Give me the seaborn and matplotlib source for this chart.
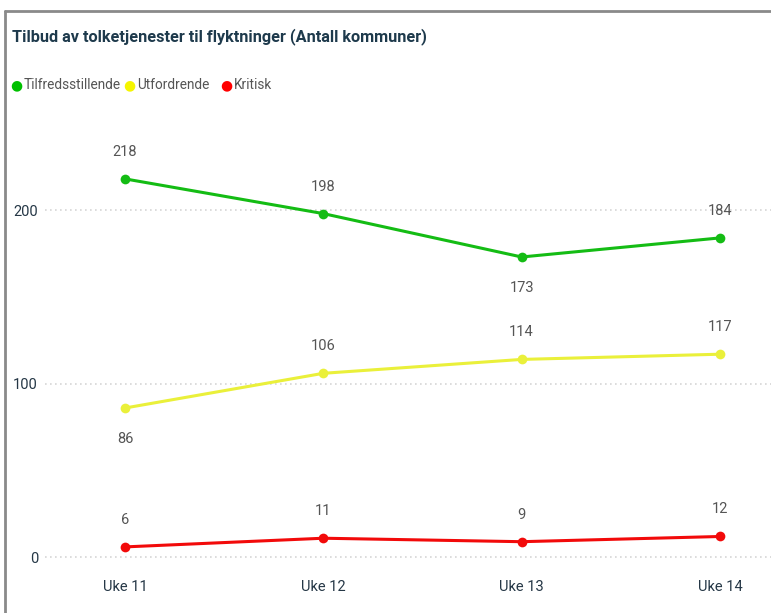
import matplotlib
matplotlib.use("Agg")
import matplotlib.pyplot as plt
import pandas as pd
import seaborn as sns

# Données du graphique
uker = ["Uke 11", "Uke 12", "Uke 13", "Uke 14"]
tilfredsstillende = [218, 198, 173, 184]
utfordrende = [86, 106, 114, 117]
kritisk = [6, 11, 9, 12]
serier = ["Tilfredsstillende", "Utfordrende", "Kritisk"]
farger = ["#14BC14", "#EAF03A", "#F20A0A"]
prikkfarger = ["#00C000", "#F5F500", "#FF0000"]

# Format long pour seaborn
df = pd.DataFrame({
    "uke": uker * 3,
    "x": list(range(len(uker))) * 3,
    "verdi": tilfredsstillende + utfordrende + kritisk,
    "serie": [serier[0]] * 4 + [serier[1]] * 4 + [serier[2]] * 4,
})

sns.set_theme(style="white")
plt.rcParams["font.family"] = ["Roboto", "DejaVu Sans"]

fig = plt.figure(figsize=(7.71, 6.13), dpi=100)
ax = fig.add_axes([45 / 771, 1 - 566 / 613, 1 - 45 / 771, (566 - 132) / 613])

sns.lineplot(data=df, x="x", y="verdi", hue="serie", palette=farger,
             marker="o", markersize=7, markeredgewidth=0, linewidth=2.2,
             legend=False, ax=ax)

# Étiquettes de valeurs (décalage en pixels converti en points)
tekstfarge = "#555555"
def etikett(v, i, over=True):
    off = 27 if over else -31
    ax.annotate(str(v), (i, v), xytext=(0, off * 0.72), textcoords="offset points",
                ha="center", va="center", fontsize=10.5, color=tekstfarge)

for i in range(len(uker)):
    etikett(tilfredsstillende[i], i, over=(i != 2))
    etikett(utfordrende[i], i, over=(i != 0))
    etikett(kritisk[i], i)

ax.set_xlim(-0.403, 3.257)
ax.set_ylim(-5, 245)
ax.set_xticks(range(len(uker)))
ax.set_xticklabels(uker)
ax.set_yticks([0, 100, 200])
ax.set_xlabel("")
ax.set_ylabel("")
ax.tick_params(axis="both", length=0, labelsize=10.5, colors="#253746")
ax.tick_params(axis="x", pad=10)
ax.tick_params(axis="y", pad=5)
ax.grid(axis="y", color="#D6D6D6", linestyle=(0, (1, 2)), linewidth=1.2)
for s in ax.spines.values():
    s.set_visible(False)

# Titre et légende
fig.text(12 / 771, 1 - 37 / 613, "Tilbud av tolketjenester til flyktninger (Antall kommuner)",
         fontsize=11.7, fontweight="bold", color="#1E3A4C", va="center", ha="left")
xs = [16, 129, 226]
for navn, farge, x0 in zip(serier, prikkfarger, xs):
    fig.text(x0 / 771, 1 - 85 / 613, "\u25CF", fontsize=10, color=farge,
             va="center", ha="center", family="DejaVu Sans")
    fig.text((x0 + 8) / 771, 1 - 85 / 613, navn, fontsize=9.8,
             color="#555555", va="center", ha="left")

# Cadre
fig.add_artist(plt.Line2D([5 / 771, 5 / 771], [0, 1 - 11 / 613], color="#8A8A8A", linewidth=2))
fig.add_artist(plt.Line2D([5 / 771, 1], [1 - 11 / 613, 1 - 11 / 613], color="#8A8A8A", linewidth=2))

fig.savefig("out.png", dpi=100)
